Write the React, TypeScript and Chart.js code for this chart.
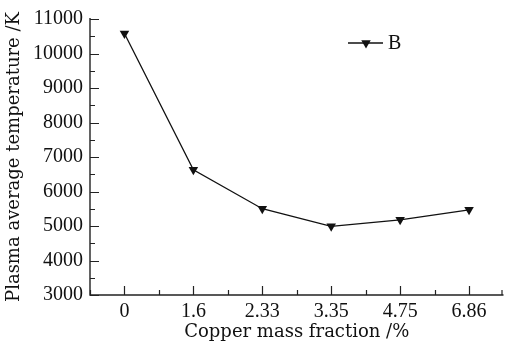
import { useEffect, useRef } from 'react';
import { Chart, registerables } from 'chart.js';

Chart.register(...registerables);

const categories = ['0', '1.6', '2.33', '3.35', '4.75', '6.86'];
const temperatures = [10580, 6630, 5500, 4990, 5180, 5470];
const seriesName = 'B';
const xTitle = 'Copper mass fraction /%';
const yTitle = 'Plasma average temperature /K';
const yMin = 3000;
const yMax = 11000;
const yStep = 1000;

const TICK_FONT = "'Liberation Serif', 'DejaVu Serif', serif";
const TITLE_FONT = "'DejaVu Serif', 'Liberation Serif', serif";
const INK = '#111111';

const axisPlugin = {
  id: 'axisDecor',
  afterDraw(chart: any) {
    const { ctx, chartArea } = chart;
    const xs = chart.scales.x;
    const ys = chart.scales.y;
    ctx.save();
    ctx.strokeStyle = '#222';
    ctx.lineWidth = 1.4;
    ctx.beginPath();
    ctx.moveTo(chartArea.left, chartArea.top - 1);
    ctx.lineTo(chartArea.left, chartArea.bottom);
    ctx.lineTo(chartArea.right, chartArea.bottom);
    ctx.stroke();
    ctx.lineWidth = 1.2;
    ctx.beginPath();
    for (let v = yMin; v <= yMax; v += yStep / 2) {
      const y = Math.round(ys.getPixelForValue(v)) + 0.5;
      const major = (v - yMin) % yStep === 0;
      const len = major ? 9 : 5;
      ctx.moveTo(chartArea.left, y);
      ctx.lineTo(chartArea.left + len, y);
    }
    for (let i = 0; i <= categories.length * 2; i++) {
      const v = i / 2 - 0.5;
      const x = Math.min(Math.round(xs.getPixelForValue(v)) + 0.5, chartArea.right - 1.5);
      const major = i % 2 === 1;
      const len = major ? 9 : 5;
      ctx.moveTo(x, chartArea.bottom);
      ctx.lineTo(x, chartArea.bottom - len);
    }
    ctx.stroke();
    // legend
    const lx = 348;
    const ly = 43;
    ctx.lineWidth = 1.3;
    ctx.strokeStyle = INK;
    ctx.beginPath();
    ctx.moveTo(lx, ly);
    ctx.lineTo(lx + 35, ly);
    ctx.stroke();
    const cx = lx + 18;
    const r = 5.5;
    ctx.fillStyle = INK;
    ctx.beginPath();
    ctx.moveTo(cx - r * 0.866, ly - r * 0.5);
    ctx.lineTo(cx + r * 0.866, ly - r * 0.5);
    ctx.lineTo(cx, ly + r);
    ctx.closePath();
    ctx.fill();
    ctx.font = `20px ${TICK_FONT}`;
    ctx.textBaseline = 'middle';
    ctx.textAlign = 'left';
    ctx.fillText(chart.data.datasets[0].label, lx + 40, ly + 1);
    ctx.restore();
  },
};

export default function App() {
  const ref = useRef<HTMLCanvasElement | null>(null);
  useEffect(() => {
    document.body.style.margin = '0';
    const canvas = ref.current;
    if (!canvas) return;
    const chart = new Chart(canvas, {
      type: 'line',
      data: {
        labels: categories,
        datasets: [
          {
            label: seriesName,
            data: temperatures,
            borderColor: INK,
            borderWidth: 1.3,
            backgroundColor: INK,
            pointStyle: 'triangle',
            rotation: 180,
            pointRadius: 5.5,
            pointBorderWidth: 0,
            pointBackgroundColor: INK,
            tension: 0,
          } as any,
        ],
      },
      options: {
        animation: false,
        responsive: true,
        maintainAspectRatio: false,
        layout: { padding: { top: 15, right: 0, left: 0, bottom: 0 } },
        plugins: {
          legend: { display: false },
          tooltip: { enabled: false },
        },
        scales: {
          x: {
            type: 'category',
            offset: true,
            grid: { display: false, drawTicks: false },
            border: { display: false },
            ticks: {
              color: INK,
              padding: 5,
              font: { family: TICK_FONT, size: 20 },
              maxRotation: 0,
              autoSkip: false,
            },
            title: {
              display: true,
              text: xTitle,
              color: INK,
              font: { family: TITLE_FONT, size: 18 },
              padding: { top: 0, bottom: 1 },
            },
            afterFit(scale: any) {
              scale.height = 49;
            },
          },
          y: {
            min: yMin,
            max: yMax,
            grid: { display: false, drawTicks: false },
            border: { display: false },
            ticks: {
              stepSize: yStep,
              color: INK,
              padding: 7,
              font: { family: TICK_FONT, size: 20 },
              callback: (v: any) => String(v),
            },
            title: {
              display: true,
              text: yTitle,
              color: INK,
              font: { family: TITLE_FONT, size: 18 },
              padding: { top: 4, bottom: 0 },
            },
            afterFit(scale: any) {
              scale.width = 90;
            },
          },
        },
      },
      plugins: [axisPlugin],
    });
    return () => chart.destroy();
  }, []);
  return (
    <div style={{ position: 'absolute', left: 0, top: 0, width: 509, height: 344, background: '#fff' }}>
      <canvas ref={ref} />
    </div>
  );
}
